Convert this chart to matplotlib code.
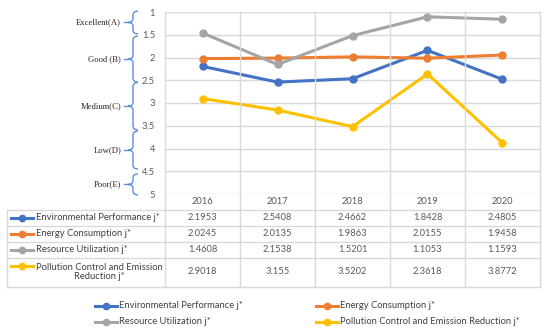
import matplotlib
matplotlib.use("Agg")
import matplotlib.pyplot as plt
from matplotlib.lines import Line2D
from matplotlib.path import Path
from matplotlib.patches import PathPatch
import matplotlib.transforms as mtransforms

years = ["2016", "2017", "2018", "2019", "2020"]
series_names = ["Environmental Performance j*", "Energy Consumption j*",
                "Resource Utilization j*", "Pollution Control and Emission Reduction j*"]
table_labels = ["Environmental Performance j*", "Energy Consumption j*",
                "Resource Utilization j*", "Pollution Control and Emission\nReduction j*"]
env_perf = [2.1953, 2.5408, 2.4662, 1.8428, 2.4805]
energy = [2.0245, 2.0135, 1.9863, 2.0155, 1.9458]
resource = [1.4608, 2.1538, 1.5201, 1.1053, 1.1593]
pollution = [2.9018, 3.155, 3.5202, 2.3618, 3.8772]
value_text = [["2.1953", "2.5408", "2.4662", "1.8428", "2.4805"],
              ["2.0245", "2.0135", "1.9863", "2.0155", "1.9458"],
              ["1.4608", "2.1538", "1.5201", "1.1053", "1.1593"],
              ["2.9018", "3.155", "3.5202", "2.3618", "3.8772"]]
grades = ["Excellent(A)", "Good (B)", "Medium(C)", "Low(D)", "Poor(E)"]
# brace extents (as drawn in the reference, slightly offset from the ticks)
grade_ranges = [(0.98, 1.48), (1.53, 2.54), (2.55, 3.59), (3.62, 4.45), (4.56, 5.02)]
yticks = [1, 1.5, 2, 2.5, 3, 3.5, 4, 4.5, 5]

colors = ["#4472C4", "#ED7D31", "#A5A5A5", "#FFC000"]
grid_c = "#D9D9D9"
txt_c = "#595959"
lab_c = "#404040"
FONT = "Lato"

W, H = 550, 334
fig = plt.figure(figsize=(W / 100, H / 100), dpi=100)
renderer = fig.canvas.get_renderer()

def fit_size(s, family, target_px, base=7.0):
    t = fig.text(0, 0, s, fontfamily=family, fontsize=base)
    w = t.get_window_extent(renderer).width
    t.remove()
    return base * target_px / w

FS = fit_size("Environmental Performance j*", FONT, 123)
SFS = fit_size("Excellent(A)", "Liberation Serif", 45)

def fy(p):
    return 1 - p / H

def fx(p):
    return p / W

ax_left, ax_right, ax_top, ax_bot = 165, 540, 12, 194
ax = fig.add_axes([fx(ax_left), fy(ax_bot), fx(ax_right - ax_left), (ax_bot - ax_top) / H])
ax.set_xlim(-0.5, 4.5)
ax.set_ylim(5, 1)
ax.set_yticks(yticks)
ax.set_yticklabels([("%g" % v) for v in yticks], fontfamily=FONT, fontsize=FS, color=txt_c)
ax.tick_params(axis="y", length=0, pad=7.2)
ax.set_xticks([])
for s in ax.spines.values():
    s.set_visible(False)
ax.grid(axis="y", color=grid_c, linewidth=1.0)
ax.set_axisbelow(True)

x = list(range(len(years)))
all_series = [env_perf, energy, resource, pollution]
for vals, c in zip(all_series, colors):
    ax.plot(x, vals, color=c, linewidth=2.2, marker="o", markersize=5, clip_on=False, zorder=3)

# table grid
bt = mtransforms.blended_transform_factory(ax.transData, fig.transFigure)
for b in [i - 0.5 for i in range(len(years) + 1)]:
    fig.add_artist(Line2D([b, b], [fy(ax_top), fy(287)], transform=bt, color=grid_c, linewidth=1.0))
fig.add_artist(Line2D([fx(7), fx(7)], [fy(210), fy(287)], transform=fig.transFigure, color=grid_c, linewidth=1.0))
for p in [210, 226, 242, 258, 287]:
    fig.add_artist(Line2D([fx(7), fx(540)], [fy(p), fy(p)], transform=fig.transFigure, color=grid_c, linewidth=1.0))

for i, yr in enumerate(years):
    fig.text(i, fy(202), yr, transform=bt, ha="center", va="center", fontfamily=FONT, fontsize=FS, color=txt_c)

row_centers = [218, 234, 250, 272]
for r, (lab, c) in enumerate(zip(table_labels, colors)):
    yc = row_centers[r] if r < 3 else 265.5
    fig.add_artist(Line2D([fx(11), fx(33)], [fy(yc), fy(yc)], transform=fig.transFigure, color=c,
                          linewidth=2.2))
    fig.add_artist(Line2D([fx(22)], [fy(yc)], transform=fig.transFigure, color=c, marker="o", markersize=4.5))
    if r < 3:
        fig.text(fx(36), fy(yc), lab, ha="left", va="center", fontfamily=FONT, fontsize=FS, color=lab_c)
    else:
        fig.text(fx(36), fy(272), lab, ha="left", va="center", multialignment="center",
                 fontfamily=FONT, fontsize=FS, color=lab_c, linespacing=1.1)
    for i, v in enumerate(value_text[r]):
        fig.text(i, fy(row_centers[r]), v, transform=bt, ha="center", va="center",
                 fontfamily=FONT, fontsize=FS, color=txt_c)

# braces and grade labels
yt = ax.get_yaxis_transform()
bx = (133 - ax_left) / (ax_right - ax_left)
bw = 5 / (ax_right - ax_left)
px = 0.5 / 22.75
brace_c = "#5B8FD9"
for g, (a, b) in zip(grades, grade_ranges):
    m = (a + b) / 2
    r = 4 * px
    verts = [(bx + bw, a), (bx, a), (bx, a + r),
             (bx, m - r), (bx, m), (bx - bw, m),
             (bx, m), (bx, m + r),
             (bx, b - r), (bx, b), (bx + bw, b)]
    codes = [Path.MOVETO, Path.CURVE3, Path.CURVE3,
             Path.LINETO, Path.CURVE3, Path.CURVE3,
             Path.CURVE3, Path.CURVE3,
             Path.LINETO, Path.CURVE3, Path.CURVE3]
    ax.add_patch(PathPatch(Path(verts, codes), transform=yt, fill=False, edgecolor=brace_c,
                           linewidth=1.0, clip_on=False))
    ax.add_line(Line2D([(124 - ax_left) / 375, bx - bw], [m, m], transform=yt, color=brace_c,
                       linewidth=1.0, clip_on=False))
    ax.text((121 - ax_left) / 375, m, g, transform=yt, ha="right", va="center",
            fontfamily="Liberation Serif", fontsize=SFS, color="#262626")

# legend (manual)
leg_pos = [(95, 306), (316, 306), (95, 322), (316, 322)]
for (lx, ly), name, c in zip(leg_pos, series_names, colors):
    fig.add_artist(Line2D([fx(lx), fx(lx + 22)], [fy(ly), fy(ly)], transform=fig.transFigure,
                          color=c, linewidth=2.2))
    fig.add_artist(Line2D([fx(lx + 11)], [fy(ly)], transform=fig.transFigure, color=c,
                          marker="o", markersize=4.5))
    fig.text(fx(lx + 24), fy(ly), name, ha="left", va="center", fontfamily=FONT, fontsize=FS, color=lab_c)

fig.savefig("out.png", dpi=100)
